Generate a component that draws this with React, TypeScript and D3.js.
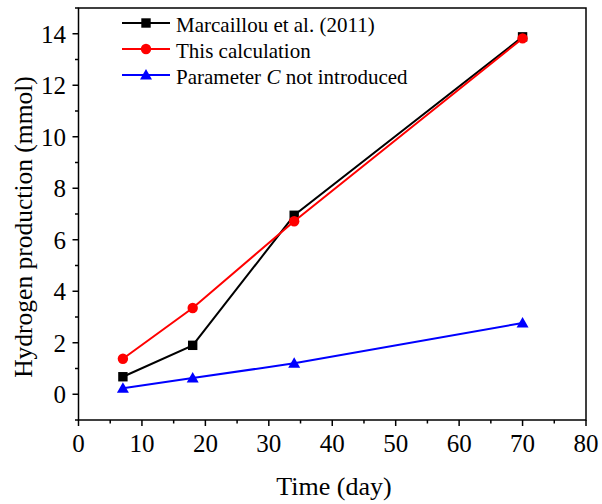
import React from "react";
import * as d3 from "d3";

const days = [7, 18, 34, 70];
const marcaillou = [0.68, 1.9, 6.95, 13.88];
const thisCalc = [1.38, 3.35, 6.72, 13.82];
const noParamC = [0.23, 0.63, 1.2, 2.77];
const xTicks = [0, 10, 20, 30, 40, 50, 60, 70, 80];
const yTicks = [0, 2, 4, 6, 8, 10, 12, 14];

const W = 602, H = 504;
const L = 78.5, R = 586, T = 8, B = 420;

export default function App() {
  const x = d3.scaleLinear().domain([0, 80]).range([L, R]);
  const y = d3.scaleLinear().domain([-1, 15]).range([B, T]);
  const line = d3.line<[number, number]>().x(d => x(d[0])).y(d => y(d[1]));
  const font = '"Liberation Serif", "Times New Roman", Times, serif';
  const series = [
    { name: "Marcaillou", vals: marcaillou, color: "#000000", shape: "square" },
    { name: "calc", vals: thisCalc, color: "#ff0000", shape: "circle" },
    { name: "noC", vals: noParamC, color: "#0000ff", shape: "triangle" },
  ];
  const marker = (shape: string, cx: number, cy: number, color: string, key?: any) => {
    if (shape === "square") return <rect key={key} x={cx - 4.7} y={cy - 4.7} width={9.4} height={9.4} fill={color} />;
    if (shape === "circle") return <circle key={key} cx={cx} cy={cy} r={5.2} fill={color} />;
    const s = 6;
    return <path key={key} d={`M${cx},${cy - s}L${cx + s},${cy + s * 0.75}L${cx - s},${cy + s * 0.75}Z`} fill={color} />;
  };
  const xMinor = d3.range(5, 80, 10);
  const yMinor = d3.range(-1, 15.01, 2);
  const legend = [
    { label: <tspan>Marcaillou et al. (2011)</tspan>, color: "#000000", shape: "square" },
    { label: <tspan>This calculation</tspan>, color: "#ff0000", shape: "circle" },
    { label: <tspan>Parameter <tspan fontStyle="italic">C</tspan> not introduced</tspan>, color: "#0000ff", shape: "triangle" },
  ];
  return (
    <svg width={W} height={H} style={{ position: "absolute", left: 0, top: 0, fontFamily: font }}>
      <rect width={W} height={H} fill="#fff" />
      {series.map(s => (
        <g key={s.name}>
          <path d={line(days.map((d, i) => [d, s.vals[i]] as [number, number])) || ""} fill="none" stroke={s.color} strokeWidth={2} />
          {days.map((d, i) => marker(s.shape, x(d), y(s.vals[i]), s.color, i))}
        </g>
      ))}
      <rect x={L} y={T} width={R - L} height={B - T} fill="none" stroke="#000" strokeWidth={1.5} />
      {xTicks.map(t => (
        <g key={t}>
          <line x1={x(t)} x2={x(t)} y1={B} y2={B + 6} stroke="#000" strokeWidth={1.5} />
          <text x={x(t)} y={452} textAnchor="middle" fontSize={25}>{t}</text>
        </g>
      ))}
      {xMinor.map(t => <line key={t} x1={x(t)} x2={x(t)} y1={B} y2={B + 3.5} stroke="#000" strokeWidth={1.5} />)}
      {yTicks.map(t => (
        <g key={t}>
          <line x1={L} x2={L - 6} y1={y(t)} y2={y(t)} stroke="#000" strokeWidth={1.5} />
          <text x={66} y={y(t) + 8.8} textAnchor="end" fontSize={25}>{t}</text>
        </g>
      ))}
      {yMinor.map(t => <line key={t} x1={L} x2={L - 3.5} y1={y(t)} y2={y(t)} stroke="#000" strokeWidth={1.5} />)}
      <text x={334} y={495} textAnchor="middle" fontSize={26}>Time (day)</text>
      <text transform={`translate(32,227) rotate(-90)`} textAnchor="middle" fontSize={25.5}>Hydrogen production (mmol)</text>
      {legend.map((l, i) => {
        const cy = 23 + i * 26;
        return (
          <g key={i}>
            <line x1={122} x2={170} y1={cy} y2={cy} stroke={l.color} strokeWidth={2} />
            {marker(l.shape, 146, cy, l.color)}
            <text x={176} y={cy + 8.5} fontSize={21}>{l.label}</text>
          </g>
        );
      })}
    </svg>
  );
}
